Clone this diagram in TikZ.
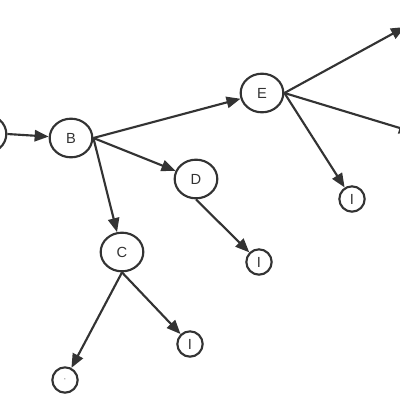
\documentclass[tikz,border=0pt]{standalone}
\usepackage{fontspec}
\setmainfont{Liberation Sans}
\usetikzlibrary{arrows.meta,shapes.geometric}
\definecolor{ink}{HTML}{333333}
\begin{document}
\begin{tikzpicture}[x=0.75pt,y=-0.75pt,
  big/.style={ellipse,draw=ink,line width=1.6pt,minimum width=32pt,minimum height=29pt,inner sep=0pt,font=\fontsize{11}{13}\selectfont,text=ink},
  small/.style={circle,draw=ink,line width=1.6pt,minimum size=19pt,inner sep=0pt,font=\fontsize{11}{13}\selectfont,text=ink},
  edge/.style={draw=ink,line width=1.6pt,-{Triangle[length=10.5pt,width=8.5pt]}}]
\clip (0,0) rectangle (400,400);
\useasboundingbox (0,0) rectangle (400,400);
\node[big] (A) at (-15,134) {};
\node[big] (B) at (71,138) {B};
\node[big] (E) at (262,93) {E};
\node[big] (D) at (196,179) {D};
\node[big] (C) at (122,252) {C};
\node[small] (I1) at (259,262) {I};
\node[small] (I2) at (190,344) {I};
\node[small] (I3) at (352,199) {I};
\node[small] (P) at (65,380) {\fontsize{6}{7}\selectfont\textperiodcentered};
\coordinate (R1) at (405,27);
\coordinate (R2) at (413,132);
\draw[edge] (A.east) -- (B);
\draw[edge] (B.east) -- (E);
\draw[edge] (B.east) -- (D);
\draw[edge] (B.east) -- (C);
\draw[edge] (D.south) -- (I1);
\draw[edge] (C.south) -- (P);
\draw[edge] (C.south) -- (I2);
\draw[edge] (E.east) -- (R1);
\draw[edge] (E.east) -- (R2);
\draw[edge] (E.east) -- (I3);
\end{tikzpicture}
\end{document}
